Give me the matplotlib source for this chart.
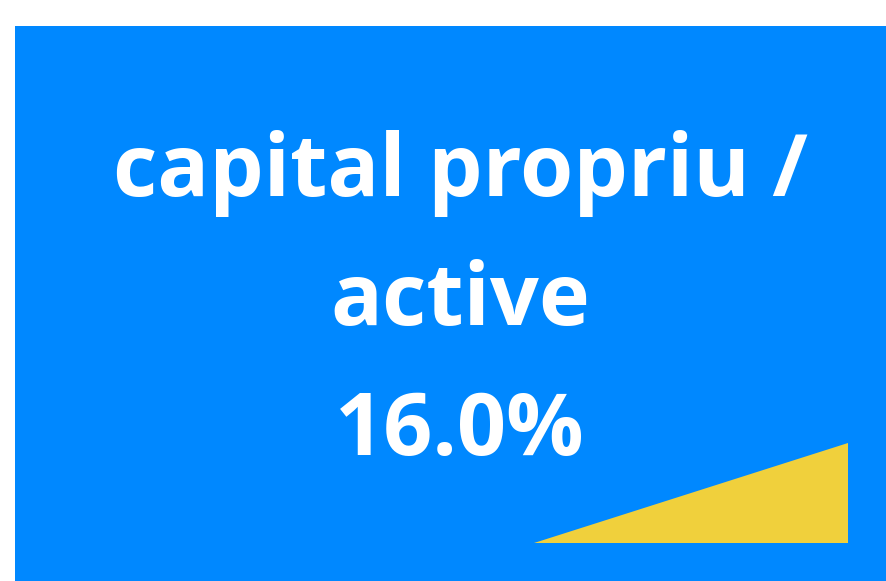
import matplotlib
matplotlib.use("Agg")
import matplotlib.pyplot as plt
from matplotlib.patches import Rectangle, Polygon

label_lines = ["capital propriu /", "active"]
value = 16.0
value_fmt = "{:.1f}%"

W, H = 886, 581
fig = plt.figure(figsize=(W / 100, H / 100), dpi=100)
fig.patch.set_facecolor("white")
ax = fig.add_axes([0, 0, 1, 1])
ax.set_xlim(0, W)
ax.set_ylim(H, 0)
ax.axis("off")

ax.add_patch(Rectangle((15, 26), W - 15 + 5, H - 26 + 5, facecolor="#0088FF", edgecolor="none"))
ax.add_patch(Polygon([(534, 543), (848, 543), (848, 443)], closed=True,
                     facecolor="#F0D03C", edgecolor="none"))

lines = label_lines + [value_fmt.format(value)]
baselines = [196, 325, 455]
for txt, yb in zip(lines, baselines):
    ax.text(460, yb, txt, ha="center", va="baseline", color="white",
            fontsize=62, fontweight="bold", family=["Open Sans", "DejaVu Sans"])

fig.savefig("out.png", dpi=100, facecolor="white")
